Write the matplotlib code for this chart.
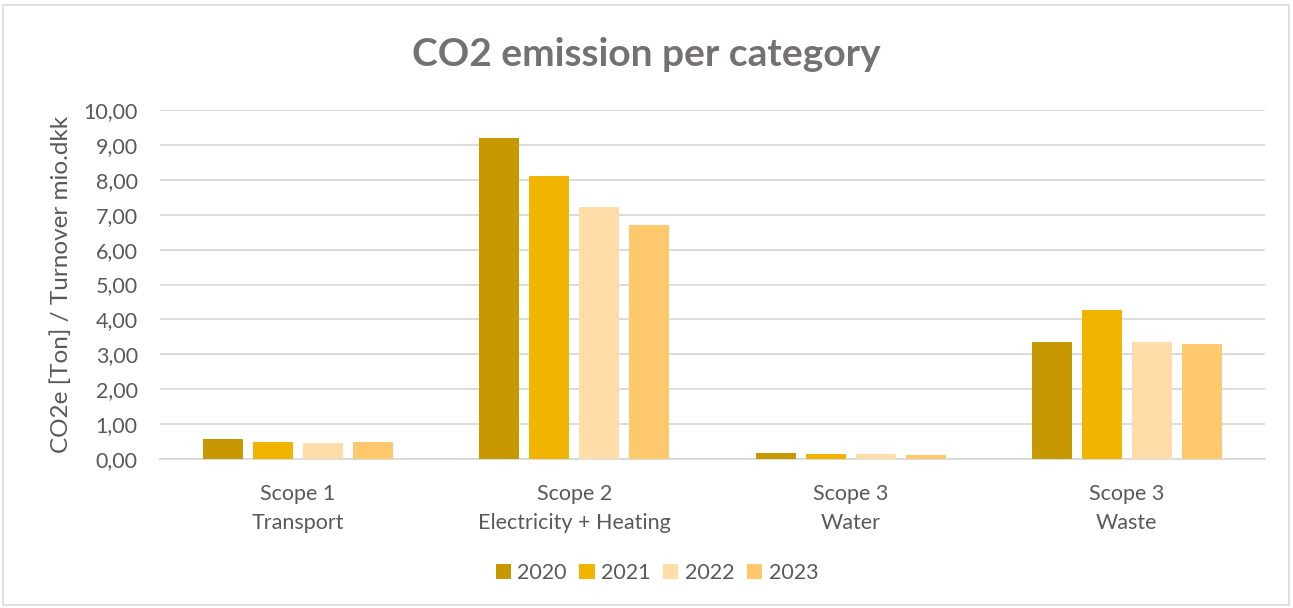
import matplotlib
matplotlib.use("Agg")
import matplotlib.pyplot as plt
import numpy as np
from matplotlib.patches import Rectangle
from matplotlib.ticker import FuncFormatter

categories = ["Scope 1\nTransport", "Scope 2\nElectricity + Heating", "Scope 3\nWater", "Scope 3\nWaste"]
years = ["2020", "2021", "2022", "2023"]
v2020 = [0.56, 9.20, 0.16, 3.35]
v2021 = [0.48, 8.10, 0.14, 4.27]
v2022 = [0.45, 7.22, 0.14, 3.35]
v2023 = [0.48, 6.70, 0.11, 3.29]
series = [v2020, v2021, v2022, v2023]
colors = ["#C79800", "#F1B400", "#FFDCA8", "#FFC86C"]

plt.rcParams['font.family'] = ['Lato', 'DejaVu Sans']
txt = "#595959"

fig = plt.figure(figsize=(12.93, 6.08), dpi=100)
fig.patches.append(Rectangle((3/1293, 3/608), 1286/1293, 600/608, transform=fig.transFigure,
                             fill=False, edgecolor="#D9D9D9", linewidth=1.2))
ax = fig.add_axes([160/1293, 1-459/608, 1105/1293, 349/608])

x = np.arange(len(categories))
bw = 40/276.25
step = 50/276.25
for i, (vals, c, yr) in enumerate(zip(series, colors, years)):
    ax.bar(x + (i-1.5)*step, vals, width=bw, color=c, label=yr, zorder=3)

ax.set_xlim(-0.5, 3.5)
ax.set_ylim(0, 10)
ax.set_yticks(np.arange(0, 11, 1))
ax.yaxis.set_major_formatter(FuncFormatter(lambda v, p: f"{v:.2f}".replace(".", ",")))
ax.grid(axis="y", color="#D9D9D9", linewidth=1.3, zorder=0)
ax.set_xticks(x)
ax.set_xticklabels(categories, fontsize=15.5, color=txt, linespacing=1.55)
ax.tick_params(axis="y", length=0, labelsize=15.5, labelcolor=txt, pad=16)
ax.tick_params(axis="x", length=0, pad=18)
for s in ["top", "right", "left"]:
    ax.spines[s].set_visible(False)
ax.spines["bottom"].set_color("#D9D9D9")
ax.spines["bottom"].set_linewidth(1.3)

ax.set_ylabel("CO2e [Ton] / Turnover mio.dkk", fontsize=17.5, color=txt)
ax.yaxis.set_label_coords(-88/1105, 0.5)

fig.text(0.5, 1-55/608, "CO2 emission per category", ha="center", va="center",
         fontsize=28, fontweight="bold", color="#767171")

leg = fig.legend(loc="center", bbox_to_anchor=(657/1293, 1-573/608), ncol=4, frameon=False,
                 fontsize=15.5, handlelength=0.7, handleheight=0.7, handletextpad=0.3, columnspacing=0.6)
for t in leg.get_texts():
    t.set_color(txt)

fig.savefig("out.png", dpi=100)
